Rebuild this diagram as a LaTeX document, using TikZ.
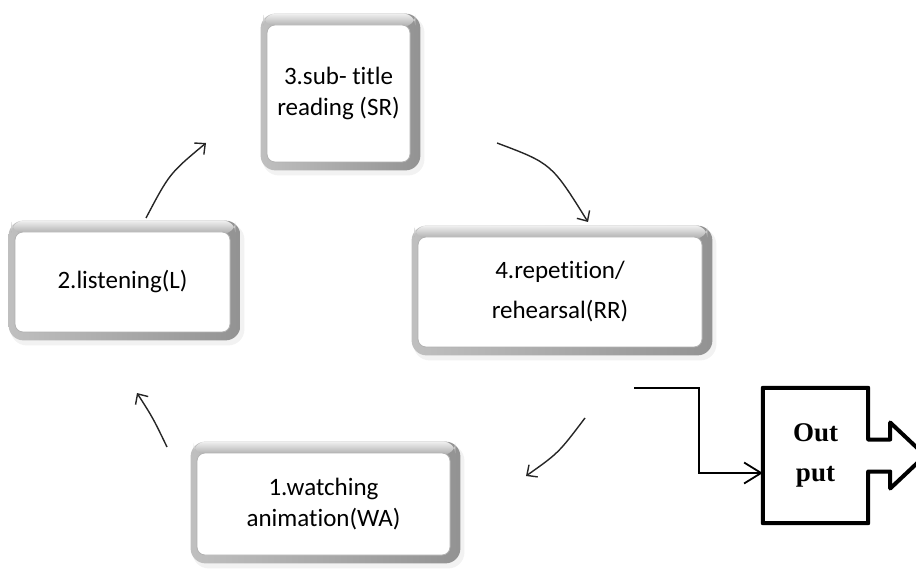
\documentclass[tikz,border=0pt]{standalone}
\usepackage{fontspec}
\setmainfont{Carlito}[Ligatures=NoCommon]
\newfontfamily\outfont{Liberation Serif}
\usetikzlibrary{arrows.meta,calc,backgrounds}

\tikzset{
  x=1pt, y=-1pt,
  face/.style={rectangle, rounded corners=8pt, fill=white, draw=gray!60,
    line width=0.8pt, align=center, inner sep=0pt,
    font=\fontsize{25}{31}\selectfont},
  flow/.style={-{Straight Barb[length=8pt,width=15pt]}, line width=1.4pt, black!85},
  feed/.style={-{Straight Barb[length=17pt,width=21pt]}, line width=1.8pt},
}

% raised bevel frame drawn behind a face node
\newcommand\bevelbox[1]{%
  \begin{scope}[on background layer]
    \fill[gray!10, rounded corners=16pt]
      ($(#1.north west)+(-4,-8)$) rectangle ($(#1.south east)+(14,13)$);
    \shade[rounded corners=15pt, left color=gray!50, right color=gray!85]
      ($(#1.north west)+(-6,-11)$) rectangle ($(#1.south east)+(10,8)$);
    \shade[rounded corners=12pt, top color=gray!12, bottom color=gray!65]
      ($(#1.north west)+(-3,-11)$) rectangle ($(#1.north east)+(5,2)$);
  \end{scope}}

\begin{document}
\begin{tikzpicture}
\useasboundingbox (0,0) rectangle (916,569);

% the four stages
\node[face, minimum width=143, minimum height=137] (sr) at (338.5,93.5)
  {3.sub- title\\reading (SR)};
\node[face, minimum width=215, minimum height=100] (l) at (122.5,282)
  {2.listening(L)};
\node[face, minimum width=284, minimum height=110,
      font=\fontsize{25}{40}\selectfont] (rr) at (560,292)
  {4.repetition/\\rehearsal(RR)};
\node[face, minimum width=253, minimum height=102] (wa) at (323.5,504)
  {1.watching\\animation(WA)};
\bevelbox{sr}\bevelbox{l}\bevelbox{rr}\bevelbox{wa}

% cycle arrows
\coordinate (l1) at (146,218);  \coordinate (l2) at (206,143);
\coordinate (s1) at (497,143);  \coordinate (s2) at (588,222);
\coordinate (r1) at (585,418);  \coordinate (r2) at (526,476);
\coordinate (w1) at (167,447);  \coordinate (w2) at (137,393);
\draw[flow] (l1) .. controls (169.5,173.5) .. (l2);
\draw[flow] (s1) .. controls (551.5,163.5) .. (s2);
\draw[flow] (r1) .. controls (558.5,453) .. (r2);
\draw[flow] (w1) .. controls (153,418) .. (w2);

% output block
\node[rectangle, minimum width=105, minimum height=135, align=center,
      inner sep=0pt, font=\outfont\bfseries\fontsize{27}{40}\selectfont]
  (out) at (815.5,455.5) {Out\\put};
\draw[line width=4pt, line join=round]
  (out.north west) -- (out.north east) -- ($(out.east)+(0,-16)$)
  -- ($(out.east)+(22,-16)$) -- ($(out.east)+(22,-33)$)
  -- ($(out.east)+(57,0)$)
  -- ($(out.east)+(22,33)$) -- ($(out.east)+(22,16)$)
  -- ($(out.east)+(0,16)$) -- (out.south east) -- (out.south west) -- cycle;

\coordinate (inA) at (634,388);
\coordinate (inB) at (699,473);
\draw[feed] (inA) -| (inB) -- (inB -| out.west);
\end{tikzpicture}
\end{document}
